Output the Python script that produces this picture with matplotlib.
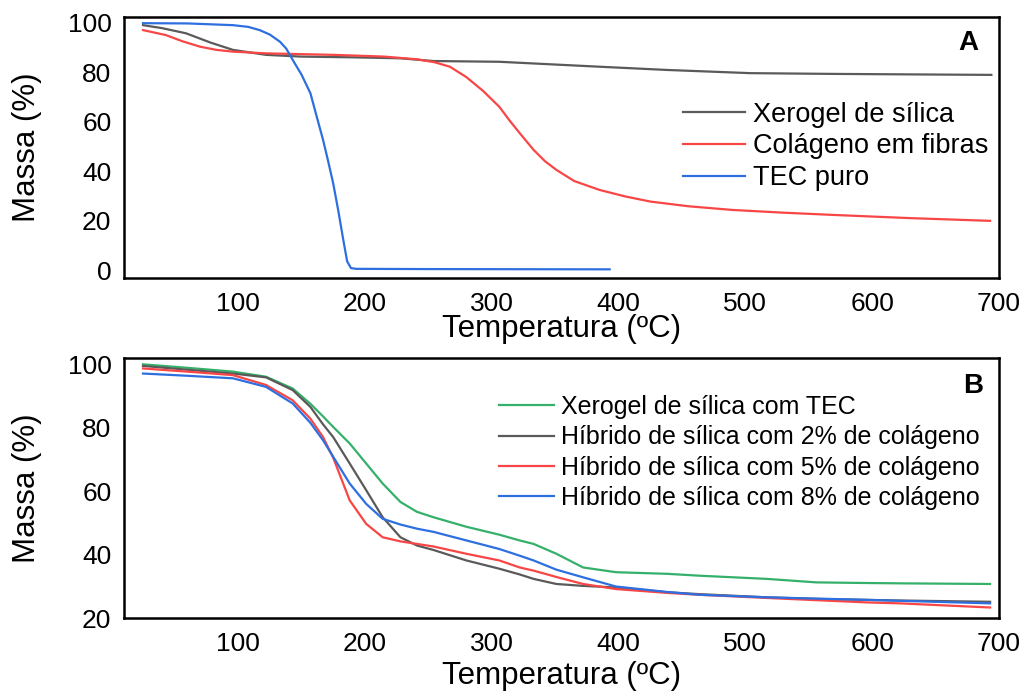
import matplotlib
matplotlib.use("Agg")
import matplotlib.pyplot as plt

plt.rcParams.update({"font.family": ["Liberation Sans", "DejaVu Sans"]})

# ---- panel A data ----
t_xero = [25, 40, 59, 78, 96, 122, 149, 190, 228, 254, 306, 385, 438, 504, 569, 630, 694]
m_xero = [99.0, 97.8, 95.7, 92.0, 89.0, 87.0, 86.3, 86.0, 85.6, 84.5, 84.2, 82.2, 80.9, 79.6, 79.3, 79.1, 78.9]

t_col = [25, 43, 56, 70, 83, 96, 122, 175, 215, 241, 255, 267, 280, 293, 306, 314, 322, 333, 342, 351, 365, 385,
         405, 425, 455, 490, 530, 569, 630, 693]
m_col = [97.0, 95.0, 92.5, 90.3, 89.0, 88.3, 87.6, 87.0, 86.3, 85.2, 84.0, 82.2, 78.0, 72.5, 66.0, 60.5, 55.4, 48.6,
         44.0, 40.5, 36.0, 32.4, 29.8, 27.7, 25.8, 24.3, 23.2, 22.3, 21.0, 19.9]

t_tec = [25, 60, 96, 108, 117, 125, 133, 138, 143, 150, 157, 162, 167, 171, 175, 179, 183, 186, 189, 193, 250, 393]
m_tec = [99.8, 99.7, 99.0, 98.3, 97.0, 95.2, 92.3, 89.5, 85.0, 79.0, 71.5, 62.0, 52.6, 44.0, 35.0, 24.0, 12.0, 3.5,
         0.8, 0.5, 0.4, 0.3]

# ---- panel B data ----
t_b = [25, 60, 96, 122, 143, 157, 167, 175, 188, 201, 214, 228, 241, 254, 280, 306, 322, 333, 351, 372,
       398, 438, 464, 517, 556, 596, 622, 693]
m_green = [99.9, 98.8, 97.6, 96.0, 92.3, 87.5, 83.5, 80.2, 75.0, 68.7, 62.4, 56.6, 53.5, 51.8, 48.8, 46.3, 44.5, 43.4,
           40.3, 36.0, 34.5, 34.0, 33.4, 32.4, 31.3, 31.1, 31.0, 30.8]
m_grey = [99.4, 98.2, 97.0, 95.8, 91.8, 86.5, 81.0, 77.0, 68.7, 60.3, 51.8, 45.5, 42.9, 41.5, 38.2, 35.6, 33.8, 32.4,
          30.8, 30.2, 29.7, 28.2, 27.6, 26.6, 26.1, 25.8, 25.6, 25.2]
m_red = [98.6, 97.6, 96.5, 93.4, 88.6, 82.8, 77.0, 70.5, 57.1, 49.7, 45.5, 44.2, 43.4, 42.6, 40.3, 38.2, 36.0, 35.0,
         33.0, 30.8, 29.2, 28.0, 27.4, 26.4, 25.7, 25.0, 24.7, 23.4]
m_blue = [97.0, 96.3, 95.5, 92.8, 87.6, 81.5, 76.0, 70.8, 62.4, 56.0, 51.3, 49.5, 48.2, 47.2, 44.5, 41.8, 39.7, 38.2,
          35.3, 32.9, 30.0, 28.3, 27.4, 26.6, 26.2, 25.8, 25.5, 24.7]

labels_a = ["Xerogel de sílica", "Colágeno em fibras", "TEC puro"]
labels_b = ["Xerogel de sílica com TEC", "Híbrido de sílica com 2% de colágeno",
            "Híbrido de sílica com 5% de colágeno", "Híbrido de sílica com 8% de colágeno"]

GREY, RED, BLUE, GREEN = "#5a5a5a", "#f84646", "#2e6fe0", "#35b06a"

fig = plt.figure(figsize=(10.23, 6.91), dpi=100)
axA = fig.add_axes([0.1212, 0.5977, 0.8553, 0.3777])
axB = fig.add_axes([0.1212, 0.1052, 0.8553, 0.3763])

kw = dict(lw=1.6, solid_joinstyle="round")
axA.plot(t_xero, m_xero, color=GREY, label=labels_a[0], **kw)
axA.plot(t_col, m_col, color=RED, label=labels_a[1], **kw)
axA.plot(t_tec, m_tec, color=BLUE, label=labels_a[2], **kw)
axA.set_ylim(-3.2, 102.3)
axA.set_yticks([0, 20, 40, 60, 80, 100])

axB.plot(t_b, m_green, color=GREEN, label=labels_b[0], **kw)
axB.plot(t_b, m_grey, color=GREY, label=labels_b[1], **kw)
axB.plot(t_b, m_red, color=RED, label=labels_b[2], **kw)
axB.plot(t_b, m_blue, color=BLUE, label=labels_b[3], **kw)
axB.set_ylim(20, 101.8)
axB.set_yticks([20, 40, 60, 80, 100])

for ax, xl_y in ((axA, -0.226), (axB, -0.252)):
    ax.set_xlim(10, 700)
    ax.set_xticks([100, 200, 300, 400, 500, 600, 700])
    ax.tick_params(length=0, labelsize=19)
    ax.tick_params(axis="x", pad=10)
    ax.tick_params(axis="y", pad=9)
    for s in ax.spines.values():
        s.set_linewidth(1.8)
    ax.set_xlabel("Temperatura (ºC)", fontsize=22.5, va="baseline")
    ax.xaxis.set_label_coords(0.5, xl_y)
    ax.set_ylabel("Massa (%)", fontsize=22.5, va="center")
    ax.yaxis.set_label_coords(-0.111, 0.5)

axA.legend(loc="upper left", bbox_to_anchor=(0.623, 0.728), frameon=False, fontsize=19.5,
           handlelength=2.3, handletextpad=0.3, labelspacing=0.22, borderpad=0)
axB.legend(loc="upper left", bbox_to_anchor=(0.414, 0.906), frameon=False, fontsize=18,
           handlelength=2.2, handletextpad=0.3, labelspacing=0.25, borderpad=0)

axA.text(0.9646, 0.9, "A", transform=axA.transAxes, fontsize=20, fontweight="bold", ha="center", va="center")
axB.text(0.971, 0.893, "B", transform=axB.transAxes, fontsize=20, fontweight="bold", ha="center", va="center")

fig.savefig("out.png", dpi=100)
